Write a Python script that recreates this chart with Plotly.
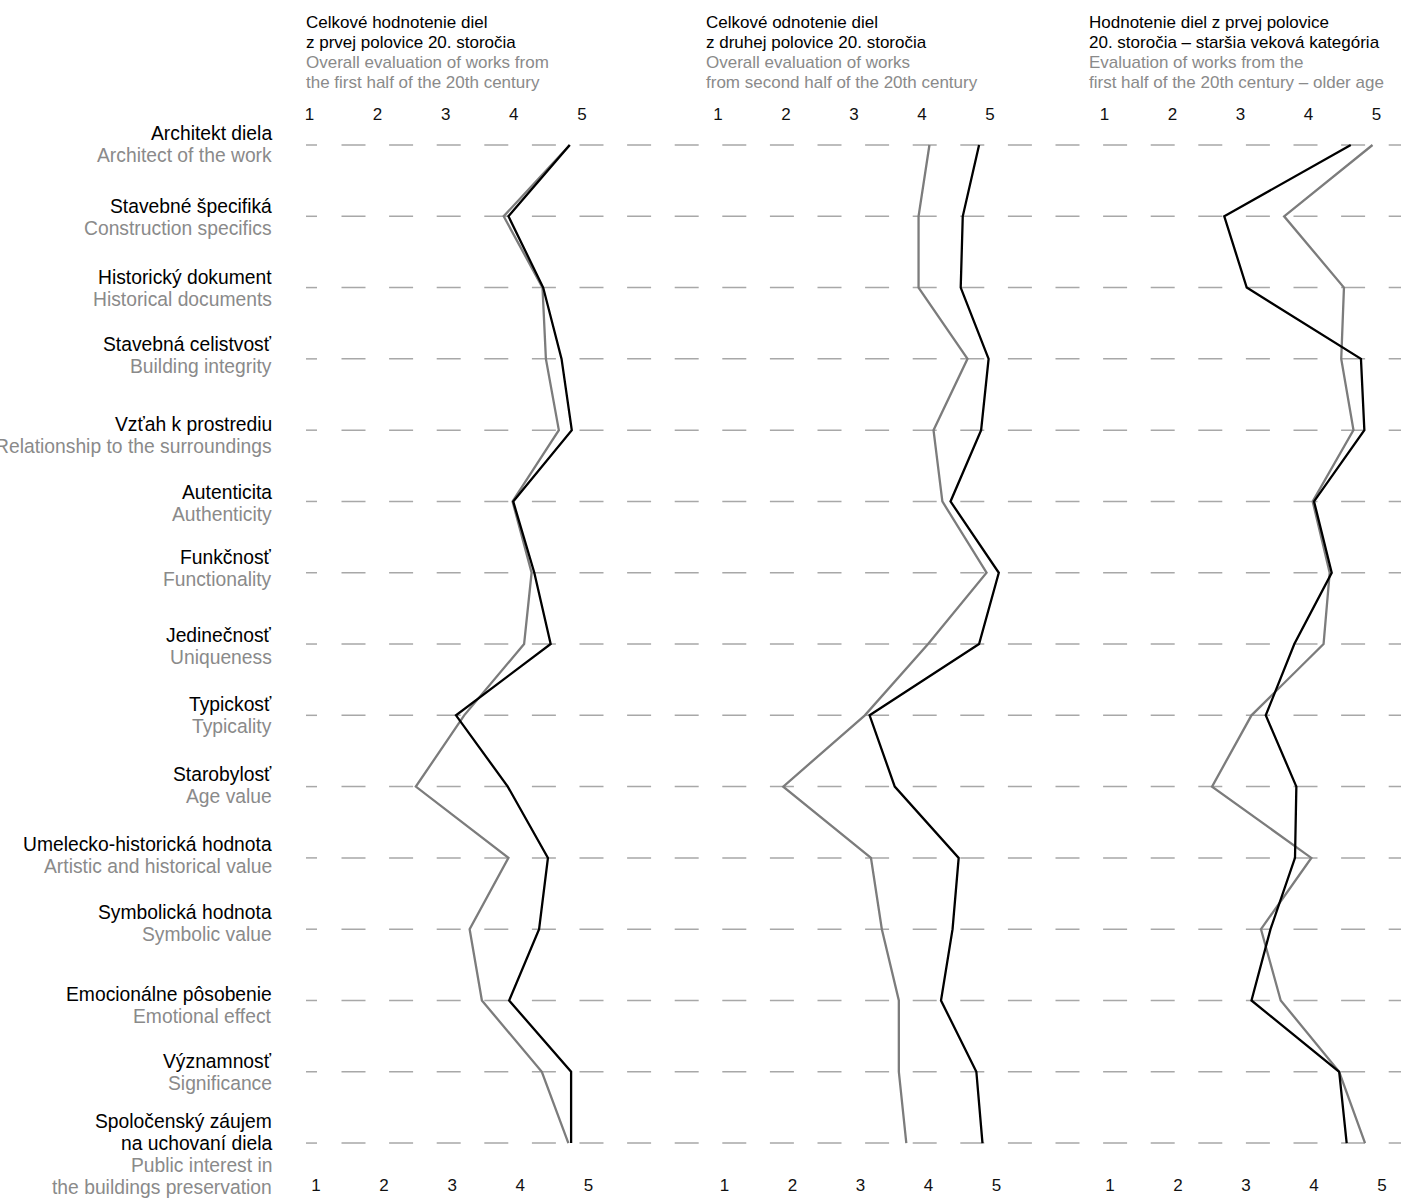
import plotly.graph_objects as go

# ---------------- data ----------------
categories_sk = [
    "Architekt diela", "Stavebné špecifiká", "Historický dokument", "Stavebná celistvosť",
    "Vzťah k prostrediu", "Autenticita", "Funkčnosť", "Jedinečnosť", "Typickosť",
    "Starobylosť", "Umelecko-historická hodnota", "Symbolická hodnota",
    "Emocionálne pôsobenie", "Významnosť", "Spoločenský záujem\nna uchovaní diela",
]
categories_en = [
    "Architect of the work", "Construction specifics", "Historical documents", "Building integrity",
    "Relationship to the surroundings", "Authenticity", "Functionality", "Uniqueness", "Typicality",
    "Age value", "Artistic and historical value", "Symbolic value",
    "Emotional effect", "Significance", "Public interest in\nthe buildings preservation",
]
tick_values = [1, 2, 3, 4, 5]
tick_labels = ["1", "2", "3", "4", "5"]

panel_titles_sk = [
    ["Celkové hodnotenie diel", "z prvej polovice 20. storočia"],
    ["Celkové odnotenie diel", "z druhej polovice 20. storočia"],
    ["Hodnotenie diel z prvej polovice", "20. storočia – staršia veková kategória"],
]
panel_titles_en = [
    ["Overall evaluation of works from", "the first half of the 20th century"],
    ["Overall evaluation of works", "from second half of the 20th century"],
    ["Evaluation of works from the", "first half of the 20th century – older age"],
]

p1_black = [4.77, 3.87, 4.38, 4.65, 4.80, 3.94, 4.25, 4.49, 3.10, 3.86, 4.45, 4.32, 3.88, 4.79, 4.79]
p1_gray = [4.77, 3.80, 4.37, 4.42, 4.61, 3.93, 4.21, 4.10, 3.22, 2.51, 3.87, 3.30, 3.48, 4.36, 4.75]
p2_black = [4.81, 4.57, 4.54, 4.95, 4.84, 4.39, 5.10, 4.81, 3.20, 3.57, 4.51, 4.42, 4.25, 4.77, 4.86]
p2_gray = [4.08, 3.92, 3.92, 4.64, 4.14, 4.27, 4.92, 4.06, 3.13, 1.93, 3.22, 3.38, 3.63, 3.63, 3.74]
p3_black = [4.57, 2.71, 3.04, 4.72, 4.77, 4.03, 4.29, 3.74, 3.32, 3.77, 3.75, 3.39, 3.11, 4.40, 4.51]
p3_gray = [4.89, 3.59, 4.47, 4.43, 4.61, 4.01, 4.26, 4.17, 3.11, 2.53, 3.99, 3.25, 3.54, 4.40, 4.78]

black_series = [p1_black, p2_black, p3_black]
gray_series = [p1_gray, p2_gray, p3_gray]

# ---------------- layout constants (pixels) ----------------
W, H = 1401, 1199
FONT = "Liberation Sans, Arial, Helvetica, sans-serif"
BLACK = "#000000"
GRAY_LINE = "#7c7c7c"
GRAY_TEXT = "#8a8a8a"
GRID = "#a8a8a8"

row_top_px = 145.0
row_step_px = 71.29
n_rows = len(categories_sk)
rows = list(range(1, n_rows + 1))

data_x1 = [313.0, 720.0, 1108.0]     # pixel of value 1 (data)
slopes = [68.1, 68.0, 68.0]         # pixels per unit
top_x1 = [309.5, 718.0, 1104.4]     # pixel of value 1 (top labels)
bot_x1 = [316.0, 724.5, 1110.0]     # pixel of value 1 (bottom labels)
title_x = [303.5, 704.5, 1086.5]
RANGE = (0.8, 5.2)

label_right_px = 274
label_center_offset = [-1, 1, 0.5, -3, 5, 2, -4, 2.5, 0.5, -1, -2, -5.5, 5.5, 1, 11]
label_line_px = 22.0

fig = go.Figure()

layout = dict(
    width=W, height=H, autosize=False,
    margin=dict(l=0, r=0, t=0, b=0, pad=0),
    paper_bgcolor="white", plot_bgcolor="white",
    showlegend=False,
    font=dict(family=FONT, color=BLACK),
)

y_top = 1 - row_top_px / row_step_px
y_bot = 1 + (H - row_top_px) / row_step_px
layout["yaxis"] = dict(range=[y_bot, y_top], domain=[0, 1], visible=False, fixedrange=True)

axis_common = dict(showgrid=False, zeroline=False, showline=False, ticks="",
                   tickvals=tick_values, ticktext=tick_labels, fixedrange=True,
                   tickfont=dict(family=FONT, size=17, color="#111111"))

for i in range(3):
    n = i + 1
    s = slopes[i]
    d0 = (data_x1[i] + (RANGE[0] - 1) * s) / W
    d1 = (data_x1[i] + (RANGE[1] - 1) * s) / W
    xa = "xaxis" if n == 1 else f"xaxis{n}"
    xref = "x" if n == 1 else f"x{n}"
    layout[xa] = dict(domain=[d0, d1], range=list(RANGE), anchor="y",
                      showticklabels=False, **axis_common)
    # top & bottom label axes (overlaying)
    for j, (lab_x1, side, pos_px) in enumerate([(top_x1[i], "top", 123.0), (bot_x1[i], "bottom", 1173.0)]):
        k = 3 + 2 * i + j + 1
        shift = (data_x1[i] - lab_x1) / s
        layout[f"xaxis{k}"] = dict(overlaying=xref, side=side, anchor="free",
                                   position=1 - pos_px / H,
                                   range=[RANGE[0] + shift, RANGE[1] + shift],
                                   showticklabels=True, **axis_common)
        fig.add_trace(go.Scatter(x=tick_values, y=[rows[0]] * len(tick_values),
                                 xaxis=f"x{k}", yaxis="y", mode="markers",
                                 marker=dict(opacity=0, size=1), hoverinfo="skip"))
    fig.add_trace(go.Scatter(x=gray_series[i], y=rows, xaxis=xref, yaxis="y", mode="lines",
                             line=dict(color=GRAY_LINE, width=2.3), hoverinfo="skip"))
    fig.add_trace(go.Scatter(x=black_series[i], y=rows, xaxis=xref, yaxis="y", mode="lines",
                             line=dict(color=BLACK, width=2.3), hoverinfo="skip"))

# dashed horizontal guide lines
shapes = []
for r in rows:
    shapes.append(dict(type="line", xref="paper", yref="y", x0=306 / W, x1=317 / W, y0=r, y1=r,
                       line=dict(color=GRID, width=1.5), layer="below"))
    shapes.append(dict(type="line", xref="paper", yref="y", x0=341.5 / W, x1=1.0, y0=r, y1=r,
                       line=dict(color=GRID, width=1.5, dash="24px,23.6px"), layer="below"))
layout["shapes"] = shapes

annotations = []
# category labels
for idx, r in enumerate(rows):
    sk_lines = categories_sk[idx].split("\n")
    en_lines = categories_en[idx].split("\n")
    lines = [(t, BLACK) for t in sk_lines] + [(t, GRAY_TEXT) for t in en_lines]
    nl = len(lines)
    center = label_center_offset[idx]
    for li, (t, col) in enumerate(lines):
        off = center + (li - (nl - 1) / 2) * label_line_px
        annotations.append(dict(text=t, xref="paper", yref="y", x=label_right_px / W, y=r,
                                yshift=-off, xanchor="right", yanchor="middle", showarrow=False,
                                font=dict(family=FONT, size=19.3, color=col)))
# panel titles
title_line_y = [22, 42.3, 62.6, 82.9]
for i in range(3):
    lines = [(t, BLACK) for t in panel_titles_sk[i]] + [(t, GRAY_TEXT) for t in panel_titles_en[i]]
    for li, (t, col) in enumerate(lines):
        annotations.append(dict(text=t, xref="paper", yref="paper", x=title_x[i] / W,
                                y=1 - title_line_y[li] / H, xanchor="left", yanchor="middle",
                                showarrow=False, font=dict(family=FONT, size=17, color=col)))
layout["annotations"] = annotations

fig.update_layout(**layout)
fig.write_html("out.html", post_script="document.body.style.margin='0';",
               config={"displayModeBar": False})
